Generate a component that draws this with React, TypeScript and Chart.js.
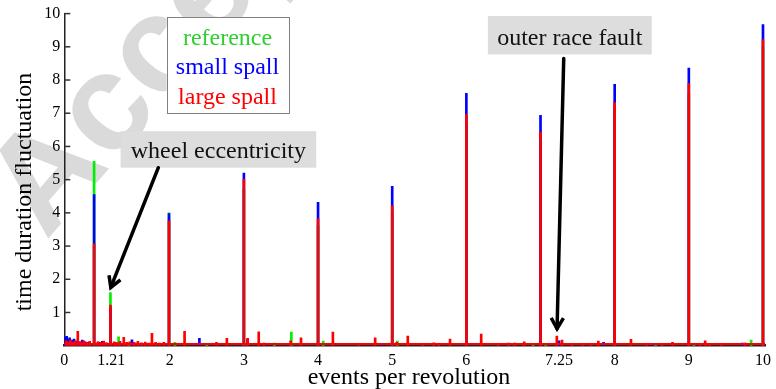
import React, { useEffect, useRef } from 'react';
import { Chart, registerables } from 'chart.js';

Chart.register(...registerables);

// ---- axes ----
const X_MIN = 0.578;
const X_MAX = 10.03;
const xTickValues = [X_MIN, 1.21, 2, 3, 4, 5, 6, 7.25, 8, 9, 10];
const xTickLabels = ['0', '1.21', '2', '3', '4', '5', '6', '7.25', '8', '9', '10'];
const yTickValues = [1, 2, 3, 4, 5, 6, 7, 8, 9, 10];

// ---- series: reference (green) ----
const referenceX = [0.98, 1.2, 1.99, 3, 4, 5, 6, 7, 8, 9, 10,
  0.62, 0.7, 0.8, 0.9, 1.31, 1.45, 1.6, 2.07, 2.5, 3.41, 3.64, 4.07, 5.07, 6.9, 7.07, 8.55, 9.07, 9.84];
const referenceY = [5.55, 1.6, 4.0, 4.7, 3.6, 4.0, 6.7, 6.2, 7.1, 7.6, 9.0,
  0.06, 0.08, 0.12, 0.07, 0.27, 0.08, 0.06, 0.1, 0.05, 0.08, 0.41, 0.14, 0.14, 0.05, 0.06, 0.05, 0.06, 0.17];

// ---- series: small spall (blue) ----
const smallSpallX = [0.98, 1.2, 1.99, 3, 4, 5, 6, 7, 8, 9, 10,
  0.59, 0.61, 0.63, 0.65, 0.68, 0.71, 0.74, 0.78, 0.82, 0.86, 0.9, 1.04, 1.09, 1.14, 1.3, 1.49, 1.6,
  2.31, 2.4, 3.05, 4.86, 6.07, 7.25, 7.85, 8.52, 9.72];
const smallSpallY = [4.55, 1.15, 3.98, 5.2, 4.32, 4.8, 7.6, 6.94, 7.87, 8.36, 9.67,
  0.25, 0.28, 0.2, 0.24, 0.17, 0.2, 0.14, 0.12, 0.17, 0.12, 0.1, 0.11, 0.13, 0.08, 0.08, 0.18, 0.07,
  0.07, 0.22, 0.2, 0.06, 0.06, 0.15, 0.1, 0.05, 0.08];

// ---- series: large spall (red) ----
const largeSpallX = [0.98, 1.2, 1.99, 3, 4, 5, 6, 7, 8, 9, 10,
  0.6, 0.63, 0.66, 0.69, 0.72, 0.76, 0.8, 0.84, 0.88, 0.92, 1.03, 1.07, 1.11, 1.15, 1.25, 1.28, 1.33,
  1.38, 1.42, 1.46, 1.52, 1.57, 1.62, 1.67, 1.72, 1.76, 1.81, 1.86, 1.92, 2.2, 2.63, 2.77, 3.05, 3.2,
  3.27, 3.63, 3.77, 4.2, 4.55, 4.77, 5.06, 5.21, 5.41, 5.56, 5.63, 5.78, 6.2, 6.43, 6.57, 6.65, 6.78,
  7.22, 7.29, 7.42, 7.57, 7.68, 7.78, 8.22, 8.43, 8.64, 8.78, 9.15, 9.22, 9.28, 9.44, 9.76];
const largeSpallY = [3.07, 1.22, 3.76, 5.01, 3.83, 4.21, 6.97, 6.43, 7.32, 7.89, 9.22,
  0.15, 0.12, 0.17, 0.1, 0.14, 0.43, 0.12, 0.15, 0.1, 0.13, 0.12, 0.1, 0.14, 0.09, 0.12, 0.1, 0.13,
  0.25, 0.1, 0.12, 0.1, 0.13, 0.09, 0.11, 0.08, 0.37, 0.1, 0.08, 0.1, 0.43, 0.1, 0.22, 0.22, 0.42,
  0.08, 0.15, 0.24, 0.41, 0.07, 0.24, 0.1, 0.29, 0.05, 0.09, 0.07, 0.2, 0.35, 0.06, 0.08, 0.08, 0.12,
  0.29, 0.17, 0.05, 0.05, 0.05, 0.14, 0.19, 0.06, 0.06, 0.1, 0.07, 0.15, 0.07, 0.06, 0.08];

// noise floor of the large spall trace
const floorX = [X_MIN, X_MAX];
const floorY = [0.05, 0.05];

// ---- legend & annotations (data coordinates) ----
const legendLabels = ['reference', 'small spall', 'large spall'];
const legendColors = ['#2fcf2f', '#0000ff', '#ff0000'];
const legendBoxX = [1.958, 3.6];
const legendBoxY = [7.0, 9.9];

const noteTexts = ['wheel eccentricity', 'outer race fault'];
const noteBoxX = [[1.337, 3.975], [6.29, 8.5]];
const noteBoxY = [[5.36, 6.46], [8.77, 9.93]];
const arrowFrom = [[1.846, 5.36], [7.313, 8.65]];
const arrowTo = [[1.19, 1.67], [7.222, 0.42]];

const SERIF = '"Liberation Serif", "Times New Roman", serif';

const pts = (xs: number[], ys: number[]) => xs.map((x, i) => ({ x, y: ys[i] }));

function drawArrow(ctx: CanvasRenderingContext2D, x1: number, y1: number, x2: number, y2: number) {
  const ang = Math.atan2(y2 - y1, x2 - x1);
  ctx.save();
  ctx.strokeStyle = '#000';
  ctx.lineWidth = 3.5;
  ctx.lineCap = 'round';
  ctx.beginPath();
  ctx.moveTo(x1, y1);
  ctx.lineTo(x2 - 3 * Math.cos(ang), y2 - 3 * Math.sin(ang));
  ctx.stroke();
  const L = 15, spread = 0.42;
  ctx.lineJoin = 'miter';
  ctx.lineCap = 'butt';
  ctx.beginPath();
  ctx.moveTo(x2 - L * Math.cos(ang - spread), y2 - L * Math.sin(ang - spread));
  ctx.lineTo(x2 - 3 * Math.cos(ang), y2 - 3 * Math.sin(ang));
  ctx.lineTo(x2 - L * Math.cos(ang + spread), y2 - L * Math.sin(ang + spread));
  ctx.stroke();
  ctx.restore();
}

const watermarkPlugin = {
  id: 'watermark',
  beforeDraw(chart: any) {
    const ctx = chart.ctx;
    ctx.save();
    ctx.fillStyle = '#dadada';
    ctx.font = 'bold 138px "Liberation Sans", Arial, sans-serif';
    ctx.textBaseline = 'alphabetic';
    ctx.translate(46, 241);
    ctx.rotate((-49 * Math.PI) / 180);
    ctx.fillText('Accepted Manuscript', 0, 0);
    ctx.restore();
  },
};

const overlayPlugin = {
  id: 'overlay',
  afterDraw(chart: any) {
    const ctx: CanvasRenderingContext2D = chart.ctx;
    const xs = chart.scales.x;
    const ys = chart.scales.y;
    const area = chart.chartArea;
    ctx.save();

    // inward y ticks
    ctx.strokeStyle = '#333';
    ctx.lineWidth = 1.5;
    yTickValues.forEach((v) => {
      const y = ys.getPixelForValue(v);
      ctx.beginPath();
      ctx.moveTo(area.left, y);
      ctx.lineTo(area.left + 6, y);
      ctx.stroke();
    });

    // legend box
    const lx1 = xs.getPixelForValue(legendBoxX[0]);
    const lx2 = xs.getPixelForValue(legendBoxX[1]);
    const ly1 = ys.getPixelForValue(legendBoxY[1]);
    const ly2 = ys.getPixelForValue(legendBoxY[0]);
    ctx.fillStyle = '#fff';
    ctx.fillRect(lx1, ly1, lx2 - lx1, ly2 - ly1);
    ctx.strokeStyle = '#808080';
    ctx.lineWidth = 1;
    ctx.strokeRect(Math.round(lx1) + 0.5, Math.round(ly1) + 0.5, Math.round(lx2 - lx1), Math.round(ly2 - ly1));
    ctx.font = `24px ${SERIF}`;
    ctx.textAlign = 'center';
    ctx.textBaseline = 'alphabetic';
    legendLabels.forEach((t, i) => {
      ctx.fillStyle = legendColors[i];
      ctx.fillText(t, (lx1 + lx2) / 2, ly1 + 28 + i * 29.4);
    });

    // annotation boxes
    noteTexts.forEach((t, i) => {
      const bx1 = xs.getPixelForValue(noteBoxX[i][0]);
      const bx2 = xs.getPixelForValue(noteBoxX[i][1]);
      const by1 = ys.getPixelForValue(noteBoxY[i][1]);
      const by2 = ys.getPixelForValue(noteBoxY[i][0]);
      ctx.fillStyle = '#dddddd';
      ctx.fillRect(bx1, by1, bx2 - bx1, by2 - by1);
      ctx.fillStyle = '#111';
      ctx.font = `24px ${SERIF}`;
      ctx.textAlign = 'center';
      ctx.fillText(t, (bx1 + bx2) / 2, by2 - 9.5);
      drawArrow(
        ctx,
        xs.getPixelForValue(arrowFrom[i][0]), ys.getPixelForValue(arrowFrom[i][1]),
        xs.getPixelForValue(arrowTo[i][0]), ys.getPixelForValue(arrowTo[i][1])
      );
    });

    // axis titles
    ctx.fillStyle = '#000';
    ctx.font = `24px ${SERIF}`;
    ctx.textAlign = 'center';
    ctx.fillText('events per revolution', 409, 384);
    ctx.save();
    ctx.translate(31, 192);
    ctx.rotate(-Math.PI / 2);
    ctx.fillText('time duration fluctuation', 0, 0);
    ctx.restore();

    ctx.restore();
  },
};

export default function App() {
  const ref = useRef<HTMLCanvasElement | null>(null);
  useEffect(() => {
    if (!ref.current) return;
    const chart = new Chart(ref.current, {
      type: 'bar',
      data: {
        datasets: [
          {
            type: 'line',
            label: 'floor',
            data: pts(floorX, floorY),
            borderColor: '#ff0000',
            borderWidth: 2,
            pointRadius: 0,
            order: 0,
          } as any,
          {
            label: 'large spall',
            data: pts(largeSpallX, largeSpallY),
            backgroundColor: '#ff0000',
            barThickness: 2,
            grouped: false,
            order: 1,
          },
          {
            label: 'small spall',
            data: pts(smallSpallX, smallSpallY),
            backgroundColor: '#0000ff',
            barThickness: 2,
            grouped: false,
            order: 2,
          },
          {
            label: 'reference',
            data: pts(referenceX, referenceY),
            backgroundColor: '#00ee00',
            barThickness: 2,
            grouped: false,
            order: 3,
          },
        ],
      },
      options: {
        animation: false,
        responsive: false,
        maintainAspectRatio: false,
        layout: { padding: { top: 11.7, right: 6, left: 0, bottom: 0 } },
        plugins: { legend: { display: false }, tooltip: { enabled: false } },
        scales: {
          x: {
            type: 'linear',
            min: X_MIN,
            max: X_MAX,
            offset: false,
            grid: { display: false, drawTicks: false },
            border: { display: true, color: '#222', width: 2.5 },
            ticks: {
              autoSkip: false,
              maxRotation: 0,
              padding: 5,
              color: '#000',
              font: { family: SERIF, size: 16 },
              callback: (_v: any, i: number) => xTickLabels[i],
            },
            afterBuildTicks: (s: any) => {
              s.ticks = xTickValues.map((v) => ({ value: v }));
            },
            afterFit: (s: any) => {
              s.height = 43.3;
            },
          },
          y: {
            type: 'linear',
            min: 0,
            max: 10,
            grid: { display: false, drawTicks: false },
            border: { display: true, color: '#222', width: 1.5 },
            ticks: {
              padding: 4,
              color: '#000',
              font: { family: SERIF, size: 16 },
              callback: (v: any) => String(v),
            },
            afterBuildTicks: (s: any) => {
              s.ticks = yTickValues.map((v) => ({ value: v }));
            },
            afterFit: (s: any) => {
              s.width = 64.3;
            },
          },
        },
      } as any,
      plugins: [watermarkPlugin, overlayPlugin],
    });
    return () => chart.destroy();
  }, []);
  return (
    <div style={{ position: 'fixed', left: 0, top: 0, width: 776, height: 389, background: '#fff' }}>
      <canvas ref={ref} width={776} height={389} style={{ display: 'block' }} />
    </div>
  );
}
